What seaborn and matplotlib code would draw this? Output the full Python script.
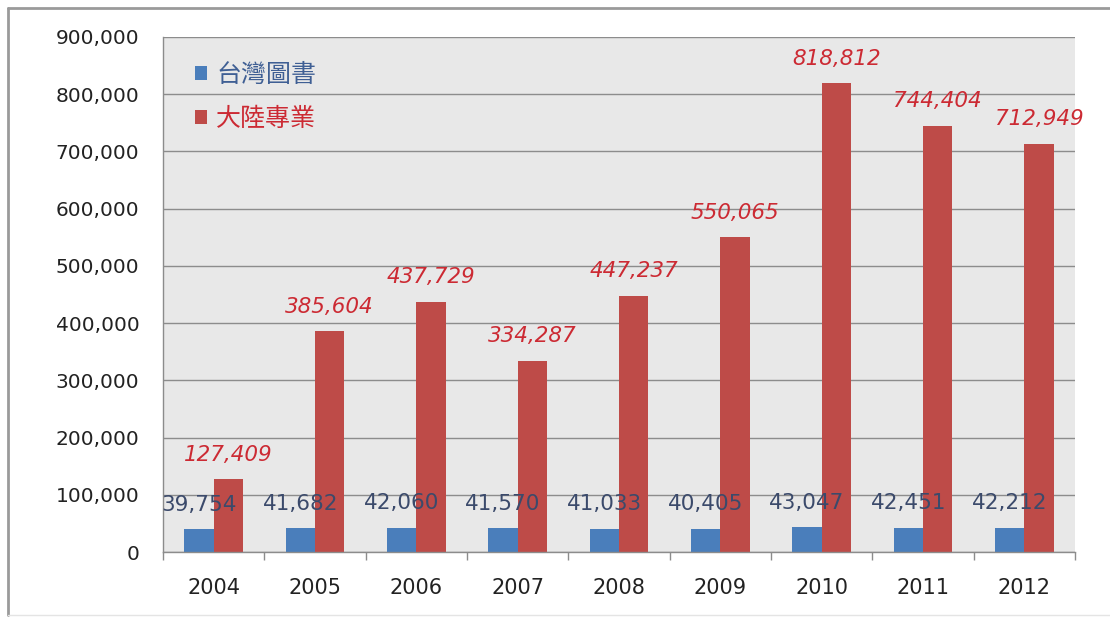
import matplotlib
matplotlib.use("Agg")
import matplotlib.pyplot as plt
from matplotlib.lines import Line2D
from matplotlib.ticker import FuncFormatter, FixedLocator
import seaborn as sns
import pandas as pd

# Annual volumes, 2004-2012
years = ["2004", "2005", "2006", "2007", "2008", "2009", "2010", "2011", "2012"]
taiwan_books = [39754, 41682, 42060, 41570, 41033, 40405, 43047, 42451, 42212]
mainland_books = [127409, 385604, 437729, 334287, 447237, 550065, 818812, 744404, 712949]
series_names = ["台灣圖書", "大陸專業"]
y_ticks = [0, 100000, 200000, 300000, 400000, 500000, 600000, 700000, 800000, 900000]

BLUE = "#4a7ebb"
RED = "#be4b48"
BLUE_TEXT = "#3b4a6b"
RED_TEXT = "#cc2a33"
CJK = ["Noto Sans CJK TC", "DejaVu Sans"]

df = pd.DataFrame({
    "year": years * 2,
    "value": taiwan_books + mainland_books,
    "series": [series_names[0]] * len(years) + [series_names[1]] * len(years),
})

sns.set_theme(style="white")
plt.rcParams["font.family"] = ["DejaVu Sans", "Noto Sans CJK TC"]

fig = plt.figure(figsize=(11.10, 6.19), dpi=100)
ax = fig.add_axes([163 / 1110, 67 / 619, 912 / 1110, 515 / 619])
ax.set_facecolor("#e8e8e8")

sns.barplot(
    data=df, x="year", y="value", hue="series",
    palette=[BLUE, RED], saturation=1, width=0.58, gap=0,
    linewidth=0.0, legend=True, ax=ax,
)

# value labels above each bar
ax.bar_label(ax.containers[0], labels=[f"{v:,}" for v in taiwan_books],
             padding=10.5, fontsize=15.5, color=BLUE_TEXT, zorder=5)
ax.bar_label(ax.containers[1], labels=[f"{v:,}" for v in mainland_books],
             padding=10.5, fontsize=15.5, color=RED_TEXT, fontstyle="italic", zorder=5)

ax.set_xlim(-0.5, len(years) - 0.5)
ax.set_ylim(0, 900000)
ax.set_yticks(y_ticks)
ax.yaxis.set_major_formatter(FuncFormatter(lambda v, p: f"{int(v):,}"))
ax.set_xlabel("")
ax.set_ylabel("")

ax.set_axisbelow(True)
ax.yaxis.grid(True, color="#8c8c8c", linewidth=1.0)
ax.xaxis.grid(False)

for side in ("top", "right"):
    ax.spines[side].set_visible(False)
for side in ("left", "bottom"):
    ax.spines[side].set_color("#8c8c8c")
    ax.spines[side].set_linewidth(1.0)

ax.tick_params(axis="y", which="major", direction="out", length=6, width=1,
               color="#8c8c8c", pad=11, labelsize=14.5, labelcolor="#222222")
ax.tick_params(axis="x", which="major", length=0, pad=18.5, labelsize=15,
               labelcolor="#222222")
ax.xaxis.set_minor_locator(FixedLocator([i - 0.5 for i in range(len(years) + 1)]))
ax.tick_params(axis="x", which="minor", direction="out", length=6, width=1,
               color="#8c8c8c", bottom=True)

# legend inside the upper-left corner
handles, labels = ax.get_legend_handles_labels()
leg = ax.legend(
    handles, labels, loc="upper left", bbox_to_anchor=(0.035, 0.952),
    frameon=False, borderpad=0, borderaxespad=0,
    handlelength=0.5, handleheight=0.5, handletextpad=0.35,
    labelspacing=0.72, prop={"family": CJK, "size": 18},
)
leg_texts = leg.get_texts()
leg_texts[0].set_color("#3f5f94")
leg_texts[1].set_color(RED_TEXT)
leg_texts[1].set_fontstyle("italic")

# outer frame of the chart
fig.add_artist(Line2D([8 / 1110, 1.0], [1 - 8 / 619, 1 - 8 / 619],
                      transform=fig.transFigure, color="#9a9a9a", linewidth=2))
fig.add_artist(Line2D([8 / 1110, 8 / 1110], [1 - 8 / 619, 4 / 619],
                      transform=fig.transFigure, color="#9a9a9a", linewidth=2))
fig.add_artist(Line2D([8 / 1110, 1.0], [4 / 619, 4 / 619],
                      transform=fig.transFigure, color="#e4e4e4", linewidth=1))

fig.savefig("out.png", dpi=100, facecolor="white")
